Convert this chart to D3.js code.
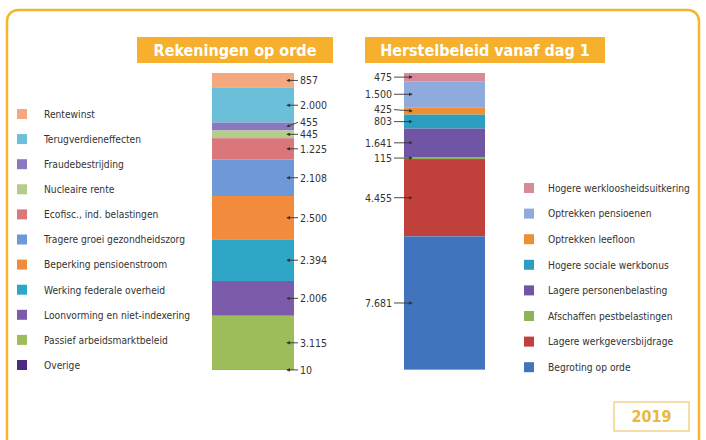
<!DOCTYPE html>
<html><head><meta charset="utf-8">
<script src="https://cdn.jsdelivr.net/npm/d3@7/dist/d3.min.js"></script>
<style>
html,body{margin:0;padding:0;background:#fff;}
svg{display:block;font-family:"Liberation Sans Narrow","DejaVu Sans Condensed","Arial Narrow",sans-serif;}
</style></head>
<body><svg id="c" width="706" height="440"></svg>
<script>
// ---- data ----
const leftTitle = "Rekeningen op orde";
const rightTitle = "Herstelbeleid vanaf dag 1";
const yearLabel = "2019";

const leftCategories = ["Rentewinst","Terugverdieneffecten","Fraudebestrijding","Nucleaire rente","Ecofisc., ind. belastingen","Tragere groei gezondheidszorg","Beperking pensioenstroom","Werking federale overheid","Loonvorming en niet-indexering","Passief arbeidsmarktbeleid","Overige"];
const leftValues = [857,2000,455,445,1225,2108,2500,2394,2006,3115,10];
const leftColors = ["#F5A77E","#6BBFD9","#8A78C0","#B4CC8C","#D9777A","#6E98D8","#F28C3C","#2EA6C6","#7B5BAA","#9DBD5A","#4A2A82"];

const rightCategories = ["Hogere werkloosheidsuitkering","Optrekken pensioenen","Optrekken leefloon","Hogere sociale werkbonus","Lagere personenbelasting","Afschaffen pestbelastingen","Lagere werkgeversbijdrage","Begroting op orde"];
const rightValues = [475,1500,425,803,1641,115,4455,7681];
const rightColors = ["#D98A98","#8FAADD","#EE8E36","#2C9EC0","#6F55A3","#8DB456","#C0403C","#4274BE"];

// ---- drawing ----
const svg = d3.select("#c");
const nl = d3.formatLocale({decimal:",",thousands:".",grouping:[3],currency:["€",""]});
const fmt = nl.format(",d");
const orange = "#F7B52C";

svg.append("rect").attr("x",7).attr("y",10).attr("width",692).attr("height",450)
  .attr("rx",11).attr("fill","none").attr("stroke",orange).attr("stroke-width",2.5);

const maxTotal = Math.max(d3.sum(leftValues), d3.sum(rightValues));
const y = d3.scaleLinear().domain([0,maxTotal]).range([73,370]);

function title(x0,x1,txt){
  svg.append("rect").attr("x",x0).attr("y",37).attr("width",x1-x0).attr("height",26).attr("fill","#F6B02D");
  svg.append("text").attr("x",(x0+x1)/2).attr("y",56).attr("text-anchor","middle")
    .attr("fill","#fff").attr("font-weight","bold").attr("font-size",16).text(txt);
}
title(137,333,leftTitle);
title(365,605,rightTitle);

const defs = svg.append("defs");
defs.append("marker").attr("id","ah").attr("viewBox","0 0 6 6").attr("refX",5).attr("refY",3)
  .attr("markerWidth",4).attr("markerHeight",4).attr("orient","auto")
  .append("path").attr("d","M0,0L6,3L0,6Z").attr("fill","#333");

const labelSize = 10.5;
function bar(vals,cols,x0,x1,side){
  const ends = d3.cumsum(vals);
  const starts = ends.map((e,i)=>e-vals[i]);
  const g = svg.append("g");
  g.selectAll("rect").data(vals).join("rect")
    .attr("x",x0).attr("width",x1-x0)
    .attr("y",(d,i)=>y(starts[i])).attr("height",(d,i)=>y(ends[i])-y(starts[i]))
    .attr("fill",(d,i)=>cols[i]);
  const mids = vals.map((d,i)=>(y(starts[i])+y(ends[i]))/2);
  const ly = mids.slice();
  const gap = 12;
  for(let i=ly.length-2;i>=0;i--){ if(ly[i] > ly[i+1]-gap) ly[i] = ly[i+1]-gap; }
  vals.forEach((d,i)=>{
    if(side==="right"){
      const ax = x1-7, tx = x1+6;
      g.append("line").attr("x1",tx-2).attr("y1",ly[i]).attr("x2",ax).attr("y2",mids[i])
        .attr("stroke","#333").attr("stroke-width",0.9).attr("marker-end","url(#ah)");
      g.append("text").attr("x",tx).attr("y",ly[i]+3.8).attr("font-size",labelSize).attr("fill","#333").text(fmt(d));
    } else {
      const ax = x0+8, tx = x0-12;
      g.append("line").attr("x1",tx+2).attr("y1",ly[i]).attr("x2",ax).attr("y2",mids[i])
        .attr("stroke","#333").attr("stroke-width",0.9).attr("marker-end","url(#ah)");
      g.append("text").attr("x",tx).attr("y",ly[i]+3.8).attr("text-anchor","end").attr("font-size",labelSize).attr("fill","#333").text(fmt(d));
    }
  });
}
bar(leftValues,leftColors,212,294,"right");
bar(rightValues,rightColors,404,485,"left");

function legend(cats,cols,x,tx,y0,step){
  const g = svg.append("g");
  cats.forEach((c,i)=>{
    g.append("rect").attr("x",x).attr("y",y0+i*step-5).attr("width",10).attr("height",10).attr("fill",cols[i]);
    g.append("text").attr("x",tx).attr("y",y0+i*step+3.8).attr("font-size",10.2).attr("fill","#333").text(c);
  });
}
legend(leftCategories,leftColors,17,44,114,25.1);
legend(rightCategories,rightColors,524,548,188,25.6);

svg.append("rect").attr("x",614).attr("y",402).attr("width",75).attr("height",29)
  .attr("fill","#fff").attr("stroke","#F3D58A").attr("stroke-width",1.5);
svg.append("text").attr("x",651.5).attr("y",422).attr("text-anchor","middle").attr("font-weight","bold")
  .attr("font-size",16).attr("fill","#E9B83C").text(yearLabel);
</script></body></html>
